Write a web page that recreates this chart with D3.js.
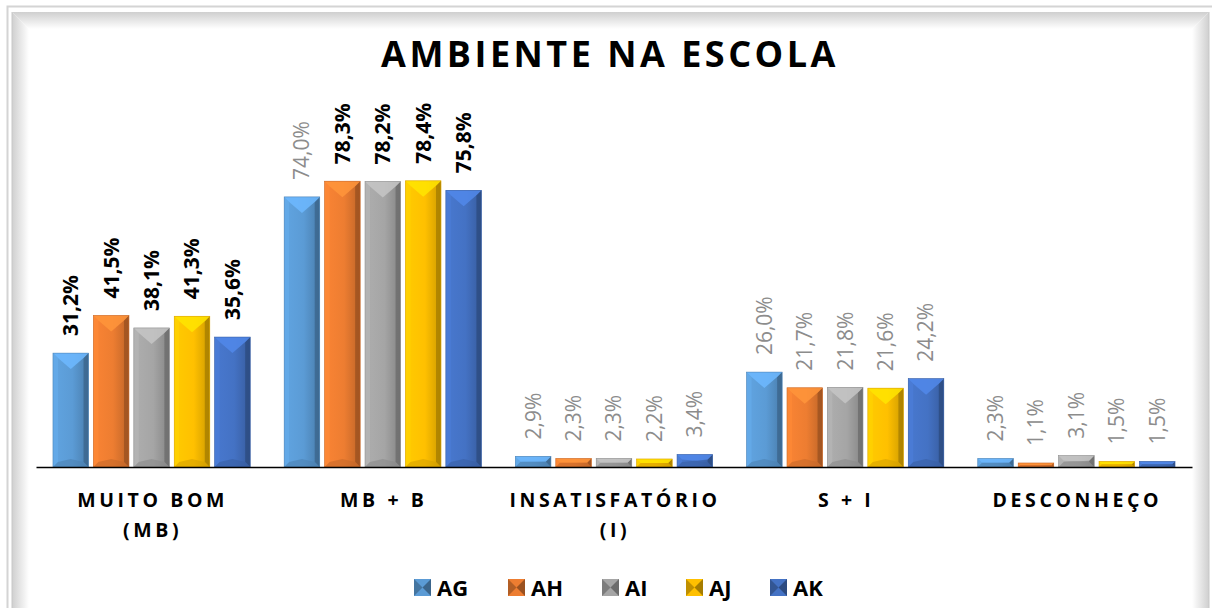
<!DOCTYPE html>
<html lang="pt">
<head>
<meta charset="UTF-8">
<title>Ambiente na Escola</title>
<script src="https://d3js.org/d3.v7.min.js"></script>
<style>
  body { margin: 0; background: #fff; font-family: "Open Sans", Arial, sans-serif; }
  svg { display: block; }
  .title { font-size: 36px; font-weight: 700; letter-spacing: 3.5px; }
  .cat { font-size: 19.5px; font-weight: 700; letter-spacing: 3.6px; }
  .val { font-size: 21px; }
  .legend text { font-size: 22px; font-weight: 700; }
</style>
</head>
<body>
<svg width="1212" height="608"></svg>
<script>
// categories (label lines) and series
var categories = ["MUITO BOM (MB)", "MB + B", "INSATISFATÓRIO (I)", "S + I", "DESCONHEÇO"];
var categoryLines = [["MUITO BOM", "(MB)"], ["MB + B"], ["INSATISFATÓRIO", "(I)"], ["S + I"], ["DESCONHEÇO"]];
var seriesNames = ["AG", "AH", "AI", "AJ", "AK"];
var colors = ["#5b9bd5", "#ed7d31", "#a5a5a5", "#ffc000", "#4472c4"];

// values in %, one array per series, in category order
var AG = [31.2, 74.0, 2.9, 26.0, 2.3];
var AH = [41.5, 78.3, 2.3, 21.7, 1.1];
var AI = [38.1, 78.2, 2.3, 21.8, 3.1];
var AJ = [41.3, 78.4, 2.2, 21.6, 1.5];
var AK = [35.6, 75.8, 3.4, 24.2, 1.5];
var values = [AG, AH, AI, AJ, AK];

// per category: which series labels are bold black (1) versus light grey (0)
var labelBold = [
  [1, 1, 1, 1, 1],
  [0, 1, 1, 1, 1],
  [0, 0, 0, 0, 0],
  [0, 0, 0, 0, 0],
  [0, 0, 0, 0, 0]
];

var svg = d3.select("svg");
var defs = svg.append("defs");

// ---- frame with soft bevel ----
var frameGrad = function(id, x1, y1, x2, y2) {
  var g = defs.append("linearGradient").attr("id", id)
    .attr("x1", x1).attr("y1", y1).attr("x2", x2).attr("y2", y2);
  g.append("stop").attr("offset", "0%").attr("stop-color", "#cfcfcf");
  g.append("stop").attr("offset", "100%").attr("stop-color", "#ffffff");
};
frameGrad("fTop", 0, 0, 0, 1);
frameGrad("fLeft", 0, 0, 1, 0);
frameGrad("fRight", 1, 0, 0, 0);

svg.append("rect").attr("x", 7.5).attr("y", 6.5).attr("width", 1215).attr("height", 620)
  .attr("fill", "none").attr("stroke", "#d4d4d4").attr("stroke-width", 2);
var fx0 = 12, fy0 = 12, fx1 = 1209, fb = 17;
svg.append("polygon").attr("fill", "url(#fTop)")
  .attr("points", [[fx0, fy0], [fx1, fy0], [fx1 - fb, fy0 + fb], [fx0 + fb, fy0 + fb]].join(" "));
svg.append("polygon").attr("fill", "url(#fLeft)")
  .attr("points", [[fx0, fy0], [fx0 + fb, fy0 + fb], [fx0 + fb, 640], [fx0, 640]].join(" "));
svg.append("polygon").attr("fill", "url(#fRight)")
  .attr("points", [[fx1, fy0], [fx1 - fb, fy0 + fb], [fx1 - fb, 640], [fx1, 640]].join(" "));
svg.append("line").attr("x1", fx0).attr("x2", fx0).attr("y1", fy0).attr("y2", 608)
  .attr("stroke", "#c8c8c8");
svg.append("line").attr("x1", fx1).attr("x2", fx1).attr("y1", fy0).attr("y2", 608)
  .attr("stroke", "#c8c8c8");

// ---- title ----
svg.append("text").attr("class", "title")
  .attr("x", 610).attr("y", 67).attr("text-anchor", "middle")
  .text("AMBIENTE NA ESCOLA");

// ---- scales ----
var x0 = d3.scaleBand().domain(categories).range([36, 1192]).padding(0);
var x1 = d3.scaleBand().domain(seriesNames).range([0, x0.bandwidth()])
  .paddingInner(0.12).paddingOuter(0.42);
var y = d3.scaleLinear().domain([0, 100]).range([467, 102]);

// bar gradients (horizontal shading)
colors.forEach(function(c, i) {
  var g = defs.append("linearGradient").attr("id", "bar" + i)
    .attr("x1", 0).attr("y1", 0).attr("x2", 1).attr("y2", 0);
  g.append("stop").attr("offset", "0%").attr("stop-color", d3.color(c).brighter(0.15));
  g.append("stop").attr("offset", "55%").attr("stop-color", c);
  g.append("stop").attr("offset", "100%").attr("stop-color", d3.color(c).darker(0.6));
});

var bars = [];
categories.forEach(function(cat, ci) {
  seriesNames.forEach(function(s, si) {
    bars.push({cat: cat, ci: ci, s: s, si: si, v: values[si][ci], bold: labelBold[ci][si]});
  });
});

var gBars = svg.append("g");
bars.forEach(function(d) {
  var bx = x0(d.cat) + x1(d.s), bw = x1.bandwidth();
  var by = y(d.v), bh = y(0) - y(d.v);
  var c = colors[d.si];
  var e = Math.min(5, bh / 2);
  var g = gBars.append("g");
  g.append("rect").attr("x", bx).attr("y", by).attr("width", bw).attr("height", bh)
    .attr("fill", "url(#bar" + d.si + ")");
  // left side highlight
  g.append("polygon").attr("fill", d3.color(c).brighter(0.3)).attr("opacity", 0.6)
    .attr("points", [[bx, by], [bx + e, by + e], [bx + e, by + bh - e], [bx, by + bh]].join(" "));
  // right side shadow
  g.append("polygon").attr("fill", d3.color(c).darker(1.3)).attr("opacity", 0.7)
    .attr("points", [[bx + bw, by], [bx + bw - e, by + e], [bx + bw - e, by + bh - e], [bx + bw, by + bh]].join(" "));
  // top bevel (V shape)
  var t = Math.min(16, bh / 2);
  g.append("polygon").attr("fill", d3.color(c).brighter(0.5)).attr("opacity", 0.85)
    .attr("points", [[bx, by], [bx + bw, by], [bx + bw - e, by + e], [bx + bw / 2, by + t], [bx + e, by + e]].join(" "));
  // bottom bevel
  g.append("polygon").attr("fill", d3.color(c).darker(0.5)).attr("opacity", 0.6)
    .attr("points", [[bx, by + bh], [bx + bw, by + bh], [bx + bw - e, by + bh - e], [bx + bw / 2, by + bh - Math.min(8, bh / 2)], [bx + e, by + bh - e]].join(" "));
  g.append("rect").attr("x", bx).attr("y", by).attr("width", bw).attr("height", bh)
    .attr("fill", "none").attr("stroke", d3.color(c).darker(0.4)).attr("stroke-width", 0.6);
});

// value labels, rotated
svg.append("g").selectAll("text").data(bars).join("text")
  .attr("class", "val")
  .attr("transform", function(d) {
    return "translate(" + (x0(d.cat) + x1(d.s) + x1.bandwidth() / 2) + "," + (y(d.v) - 17) + ") rotate(-90)";
  })
  .attr("dy", "0.35em")
  .attr("text-anchor", "start")
  .attr("font-weight", function(d) { return d.bold ? 700 : 400; })
  .attr("fill", function(d) { return d.bold ? "#000" : "#8c8c8c"; })
  .text(function(d) { return d.v.toFixed(1).replace(".", ",") + "%"; });

// axis line
svg.append("g").attr("transform", "translate(0," + y(0) + ")")
  .call(d3.axisBottom(x0).tickSize(0).tickFormat(""))
  .call(function(g) { g.select(".domain").attr("stroke", "#000").attr("stroke-width", 1.5); });

// category labels
var gCat = svg.append("g");
categories.forEach(function(cat, ci) {
  var cx = x0(cat) + x0.bandwidth() / 2 + 1;
  var t = gCat.append("text").attr("class", "cat")
    .attr("x", cx).attr("y", 507).attr("text-anchor", "middle");
  categoryLines[ci].forEach(function(line, li) {
    t.append("tspan").attr("x", cx).attr("dy", li === 0 ? 0 : 30).text(line);
  });
});

// legend
var legendX = [414, 508, 602, 686, 770];
var gLeg = svg.append("g").attr("class", "legend");
seriesNames.forEach(function(s, i) {
  var c = colors[i], lx = legendX[i], ly = 579, sz = 17;
  var g = gLeg.append("g");
  g.append("rect").attr("x", lx).attr("y", ly).attr("width", sz).attr("height", sz).attr("fill", c);
  g.append("polygon").attr("fill", d3.color(c).darker(0.8))
    .attr("points", [[lx, ly], [lx + sz / 2, ly + sz / 2], [lx, ly + sz]].join(" "));
  g.append("polygon").attr("fill", d3.color(c).darker(1.2))
    .attr("points", [[lx + sz, ly], [lx + sz / 2, ly + sz / 2], [lx + sz, ly + sz]].join(" "));
  g.append("text").attr("x", lx + 23).attr("y", ly + sz - 0.5).text(s);
});
</script>
</body>
</html>
